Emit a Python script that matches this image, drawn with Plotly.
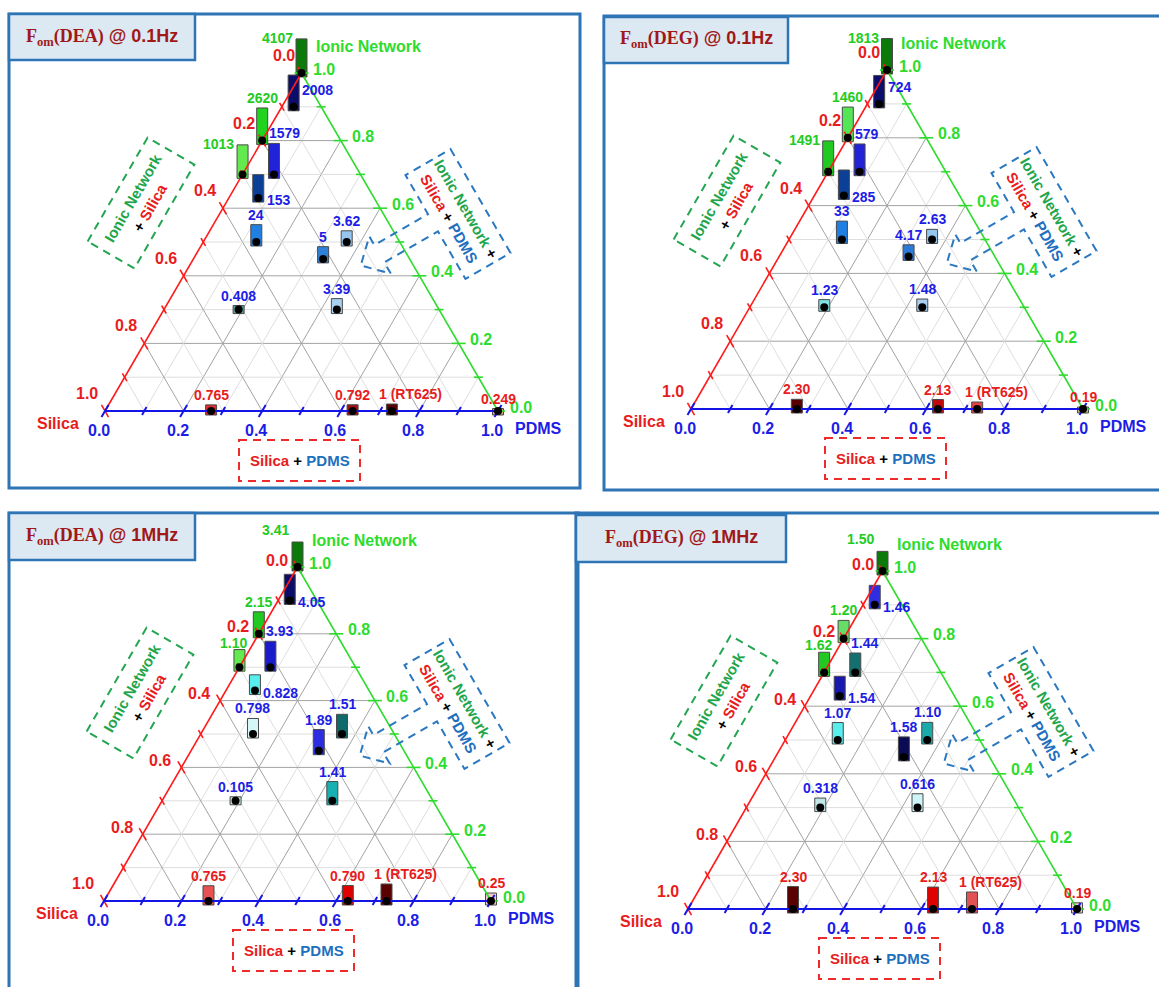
import math
import plotly.graph_objects as go

FIG_W, FIG_H = 1159, 987

# ---------------------------------------------------------------------------
# Sample compositions (fractions of Ionic Network / PDMS / Silica)
# ---------------------------------------------------------------------------
IONIC = [1.00, 0.90, 0.80, 0.70, 0.70, 0.63, 0.50, 0.50, 0.45, 0.30, 0.30, 0.00, 0.00, 0.00, 0.00]
PDMS = [0.00, 0.03, 0.00, 0.00, 0.08, 0.075, 0.135, 0.365, 0.33, 0.19, 0.44, 0.27, 0.63, 0.73, 1.00]
SILICA = [0.00, 0.07, 0.20, 0.30, 0.22, 0.295, 0.365, 0.135, 0.22, 0.51, 0.26, 0.73, 0.37, 0.27, 0.00]

# ---------------------------------------------------------------------------
# Figure of merit for each composition
# ---------------------------------------------------------------------------
FOM_DEA_01HZ = [4107, 2008, 2620, 1013, 1579, 153, 24, 3.62, 5, 0.408, 3.39, 0.765, 0.792, 1, 0.249]
TXT_DEA_01HZ = ["4107", "2008", "2620", "1013", "1579", "153", "24", "3.62", "5", "0.408",
                "3.39", "0.765", "0.792", "1 (RT625)", "0.249"]

FOM_DEG_01HZ = [1813, 724, 1460, 1491, 579, 285, 33, 2.63, 4.17, 1.23, 1.48, 2.30, 2.13, 1, 0.19]
TXT_DEG_01HZ = ["1813", "724", "1460", "1491", "579", "285", "33", "2.63", "4.17", "1.23",
                "1.48", "2.30", "2.13", "1 (RT625)", "0.19"]

FOM_DEA_1MHZ = [3.41, 4.05, 2.15, 1.10, 3.93, 0.828, 0.798, 1.51, 1.89, 0.105, 1.41, 0.765, 0.790, 1, 0.25]
TXT_DEA_1MHZ = ["3.41", "4.05", "2.15", "1.10", "3.93", "0.828", "0.798", "1.51", "1.89", "0.105",
                "1.41", "0.765", "0.790", "1 (RT625)", "0.25"]

FOM_DEG_1MHZ = [1.50, 1.46, 1.20, 1.62, 1.44, 1.54, 1.07, 1.10, 1.58, 0.318, 0.616, 2.30, 2.13, 1, 0.19]
TXT_DEG_1MHZ = ["1.50", "1.46", "1.20", "1.62", "1.44", "1.54", "1.07", "1.10", "1.58", "0.318",
                "0.616", "2.30", "2.13", "1 (RT625)", "0.19"]

TICK_VALUES = [0.0, 0.2, 0.4, 0.6, 0.8, 1.0]
TICK_TEXT = ["0.0", "0.2", "0.4", "0.6", "0.8", "1.0"]
MINOR_TICKS = [0.1, 0.3, 0.5, 0.7, 0.9]

# ---------------------------------------------------------------------------
# Styling
# ---------------------------------------------------------------------------
SANS = "Liberation Sans, Arial, sans-serif"
SERIF = "Liberation Serif, Times New Roman, serif"
RED, GREEN, BLUE = "#ff1a1a", "#2ddc2d", "#1515e8"
RED_TXT, GREEN_TXT, BLUE_TXT = "#e81c1c", "#22cc22", "#1d1de6"
FRAME_BLUE = "#2e75b6"
DASH_GREEN, DASH_BLUE, DASH_RED = "#23a552", "#2a78c0", "#ee2a2a"
LEG_GREEN, LEG_BLUE = "#1fa64c", "#1f6fbf"
TITLE_RED = "#a01818"

COL_DEA_01HZ = ["#0b7a0b", "#0c0c6b", "#1fd31f", "#62ea4e", "#2222d8", "#0b3f98", "#1f7fe3",
                "#95c6ef", "#2e80d8", "#58a3a3", "#a9d0f1", "#e02b2b", "#a30d0d", "#5a0202", "#d8a47c"]
COL_DEG_01HZ = ["#0b7a0b", "#0c0c6b", "#55e655", "#22c922", "#2222d8", "#0b3f98", "#1f7fe3",
                "#95c6ef", "#2b7ad8", "#7fe3e3", "#a9d0f1", "#5a0202", "#c20a0a", "#e24444", "#d8b27c"]
COL_DEA_1MHZ = ["#0b7a0b", "#0c0c6b", "#22c922", "#62ea4e", "#1b1bcc", "#58eeee", "#d6f7f7",
                "#0f6b6b", "#2c2ce0", "#c8e8e8", "#18b0b0", "#e85252", "#e00000", "#5a0202", "#f2c9c9"]
COL_DEG_1MHZ = ["#0b7a0b", "#2e2ee0", "#66dd66", "#22c922", "#137070", "#1818b0", "#58eeee",
                "#1aaaaa", "#0a0a55", "#c0e6e6", "#cdf4f7", "#5a0202", "#e00000", "#e25252", "#f2c9c9"]

# label placement relative to each bar
PLACE_DEA_01HZ = ["l", "rd", "t", "l", "tr", "rb", "t", "t", "t", "t", "t", "t", "t", "rt", "t"]
PLACE_DEG_01HZ = ["l", "rd", "t", "l", "tr", "rb", "t", "t", "t", "t", "t", "t", "t", "rt", "t"]
PLACE_1MHZ = ["lt", "rb", "t", "td", "tr", "rb", "t", "t", "t", "t", "t", "t", "t", "rt", "t"]

# vertical offsets (px, up) of the Silica tick labels 0.0 ... 1.0
RED_DY_TOP = [17.5, 17.5, 17.5, 17.5, 17.5, 18]
RED_DY_BOTTOM = [7, 7, 7, 7, 7, 18]

PANELS = [
    dict(material="DEA", freq="0.1Hz", fom=FOM_DEA_01HZ, text=TXT_DEA_01HZ, colors=COL_DEA_01HZ,
         place=PLACE_DEA_01HZ, origin=(105, 411), size=(393, 338), red_dx=-18, red_dy=RED_DY_TOP,
         frame=(9, 14, 580, 488), tbox=(9, 14, 195, 60), hmap=(11, 7.5, 6), rbox_dx=134),
    dict(material="DEG", freq="0.1Hz", fom=FOM_DEG_01HZ, text=TXT_DEG_01HZ, colors=COL_DEG_01HZ,
         place=PLACE_DEG_01HZ, origin=(691, 409), size=(392, 339), red_dx=-18, red_dy=RED_DY_TOP,
         frame=(604, 16, 1175, 490), tbox=(604, 17, 788, 63), hmap=(11, 7.5, 6), rbox_dx=134),
    dict(material="DEA", freq="1MHz", fom=FOM_DEA_1MHZ, text=TXT_DEA_1MHZ, colors=COL_DEA_1MHZ,
         place=PLACE_1MHZ, origin=(104, 901), size=(387, 334), red_dx=-21, red_dy=RED_DY_BOTTOM,
         frame=(9, 513, 578, 1000), tbox=(9, 513, 195, 560), hmap=(21, 15, 8), rbox_dx=129),
    dict(material="DEG", freq="1MHz", fom=FOM_DEG_1MHZ, text=TXT_DEG_1MHZ, colors=COL_DEG_1MHZ,
         place=PLACE_1MHZ, origin=(688, 909), size=(389, 338), red_dx=-20, red_dy=RED_DY_BOTTOM,
         frame=(576, 513, 1175, 1000), tbox=(576, 515, 786, 562), hmap=(21, 15, 8), rbox_dx=131),
]

BAR_W_PX = 11
BAR_DROP_PX = 4

# callout outline in its own frame (s along text, t across text)
CALLOUT = [(-60, 26), (60, 26), (60, -26), (5, -26), (5, -88), (18, -88), (-4, -110),
           (-25, -88), (-15, -88), (-15, -26), (-60, -26)]


def ternary_xy(i, p, s):
    tot = i + p + s
    i, p = i / tot, p / tot
    return p + i / 2.0, i


def paper(px, py):
    return px / FIG_W, 1 - py / FIG_H


fig = go.Figure()
shapes, annotations = [], []


def ann(xref, yref, x, y, text, size, color="#000", **kw):
    d = dict(xref=xref, yref=yref, x=x, y=y, text=text, showarrow=False,
             xanchor="center", yanchor="middle",
             font=dict(family=SANS, size=size, color=color))
    d.update(kw)
    annotations.append(d)


for k, cfg in enumerate(PANELS, start=1):
    xa = "x" if k == 1 else f"x{k}"
    ya = "y" if k == 1 else f"y{k}"
    bx, by = cfg["origin"]
    W, H = cfg["size"]

    fig.update_layout(**{
        ("xaxis" if k == 1 else f"xaxis{k}"): dict(domain=[0, 1], anchor=ya, range=[-bx / W, (FIG_W - bx) / W],
                                                   visible=False, fixedrange=True),
        ("yaxis" if k == 1 else f"yaxis{k}"): dict(domain=[0, 1], anchor=xa, range=[(by - FIG_H) / H, by / H],
                                                   visible=False, fixedrange=True),
    })

    def pt(px, py):
        return (px - bx) / W, (by - py) / H

    # ---- grid -------------------------------------------------------------
    for n in range(1, 10):
        t = n / 10
        col = "#a3a3a3" if n % 2 == 0 else "#dedede"
        segs = [((t / 2, t), (1 - t / 2, t)),
                ((t, 0), (t + (1 - t) / 2, 1 - t)),
                ((1 - t, 0), ((1 - t) / 2, 1 - t))]
        for (x0, y0), (x1, y1) in segs:
            shapes.append(dict(type="line", xref=xa, yref=ya, x0=x0, y0=y0, x1=x1, y1=y1,
                               line=dict(color=col, width=1), layer="below"))

    # ---- bars -------------------------------------------------------------
    xs, ys = zip(*[ternary_xy(i, p, s) for i, p, s in zip(IONIC, PDMS, SILICA)])
    a_h, b_h, hmin = cfg["hmap"]
    hpx = [max(hmin, a_h + b_h * math.log10(v)) for v in cfg["fom"]]
    fig.add_trace(go.Bar(
        x=list(xs), y=[h / H for h in hpx], base=[y - BAR_DROP_PX / H for y in ys],
        width=[BAR_W_PX / W] * len(xs), xaxis=xa, yaxis=ya,
        marker=dict(color=cfg["colors"], line=dict(color="#4a4a4a", width=1)),
        hoverinfo="skip", showlegend=False))

    # ---- axes with ticks ----------------------------------------------------
    def axis_trace(start, end, tick_pts, dpx, color, width):
        nrm = math.hypot(*dpx)
        ux, uy = dpx[0] / nrm, dpx[1] / nrm
        tx, ty = [start[0], end[0], None], [start[1], end[1], None]
        for (x, y), half in tick_pts:
            dx, dy = ux * half / W, -uy * half / H
            tx += [x - dx, x + dx, None]
            ty += [y - dy, y + dy, None]
        fig.add_trace(go.Scatter(x=tx, y=ty, mode="lines", xaxis=xa, yaxis=ya,
                                 line=dict(color=color, width=width), hoverinfo="skip",
                                 showlegend=False))

    all_ticks = [(t, 7) for t in TICK_VALUES] + [(t, 4.5) for t in MINOR_TICKS]
    # Silica (left edge), Ionic Network (right edge), PDMS (bottom edge)
    axis_trace((0, 0), (0.5, 1), [(((1 - t) / 2, 1 - t), L) for t, L in all_ticks],
               (-W / 2, -H), RED, 1.6)
    axis_trace((1, 0), (0.5, 1), [((1 - t / 2, t), L) for t, L in all_ticks],
               (1, 0), GREEN, 1.6)
    axis_trace((0, 0), (1, 0), [((t, 0), L) for t, L in all_ticks],
               (W / 2, -H), BLUE, 2)

    # ---- composition points -----------------------------------------------
    fig.add_trace(go.Scatter(x=list(xs), y=list(ys), mode="markers", xaxis=xa, yaxis=ya,
                             marker=dict(color="black", size=8), hoverinfo="skip",
                             showlegend=False))

    # ---- tick labels and axis titles --------------------------------------
    for t, lab, rdy in zip(TICK_VALUES, TICK_TEXT, cfg["red_dy"]):
        ann(xa, ya, (1 - t) / 2, 1 - t, f"<b>{lab}</b>", 16, RED_TXT, xshift=cfg["red_dx"], yshift=rdy)
        ann(xa, ya, t, 0, f"<b>{lab}</b>", 16, BLUE_TXT, xshift=-6, yshift=-19)
        ann(xa, ya, 1 - t / 2, t, f"<b>{lab}</b>", 16, GREEN, xshift=22.5, yshift=4)
    ann(xa, ya, 0.5, 1, "<b>Ionic Network</b>", 16, GREEN, xanchor="left", xshift=12, yshift=27)
    ann(xa, ya, 0, 0, "<b>Silica</b>", 16, RED_TXT, xanchor="right", xshift=-24, yshift=-12)
    ann(xa, ya, 1, 0, "<b>PDMS</b>", 16, BLUE_TXT, xanchor="left", xshift=15, yshift=-17)

    # ---- value labels ---------------------------------------------------------
    half_w = BAR_W_PX / 2
    for x, y, h, lab, plc, i, p in zip(xs, ys, hpx, cfg["text"], cfg["place"], IONIC, PDMS):
        col = GREEN_TXT if p == 0 else (RED_TXT if i == 0 else BLUE_TXT)
        top = y + (h - BAR_DROP_PX) / H
        txt = f"<b>{lab}</b>"
        if plc == "t":
            ann(xa, ya, x, top, txt, 14, col, yanchor="bottom")
        elif plc == "td":
            ann(xa, ya, x, top, txt, 14, col, yanchor="bottom", xshift=-6, yshift=-3)
        elif plc == "tl":
            ann(xa, ya, x, top, txt, 14, col, yanchor="bottom", xanchor="right", xshift=half_w + 2)
        elif plc == "tr":
            ann(xa, ya, x, top, txt, 14, col, yanchor="bottom", xanchor="left", xshift=-half_w - 1)
        elif plc == "rt":
            ann(xa, ya, x, top, txt, 14, col, yanchor="bottom", xanchor="left", xshift=-half_w - 9)
        elif plc == "l":
            ann(xa, ya, x, top, txt, 14, col, xanchor="right", xshift=-half_w - 1, yshift=1)
        elif plc == "lt":
            ann(xa, ya, x, top, txt, 14, col, xanchor="right", yanchor="bottom",
                xshift=-half_w - 1, yshift=2)
        elif plc == "rd":
            ann(xa, ya, x, y, txt, 14, col, xanchor="left", xshift=half_w + 1, yshift=17)
        elif plc == "rb":
            ann(xa, ya, x, y, txt, 14, col, xanchor="left", xshift=half_w + 1, yshift=-2)

    # ---- dashed group boxes ------------------------------------------------
    def rot_path(center, u, v, pts):
        cx, cy = center
        out = []
        for s, t in pts:
            px = cx + s * u[0] + t * v[0]
            py = cy + s * u[1] + t * v[1]
            out.append(pt(px, py))
        return "M " + " L ".join(f"{x:.5f},{y:.5f}" for x, y in out) + " Z"

    dash = "8px,6px"
    # Ionic Network + Silica (along the left edge)
    gc = (bx + 36, by - 208)
    gu, gv = (0.5, -0.866), (0.866, 0.5)
    shapes.append(dict(type="path", xref=xa, yref=ya,
                       path=rot_path(gc, gu, gv, [(-60, -27), (60, -27), (60, 27), (-60, 27)]),
                       line=dict(color=DASH_GREEN, width=2, dash=dash)))
    ann(xa, ya, *pt(*gc),
        f"<b><span style='color:{LEG_GREEN}'>Ionic Network</span><br>+ "
        f"<span style='color:{RED_TXT}'>Silica</span></b>", 15, "#000", textangle=-60)

    # Ionic Network + Silica + PDMS (callout pointing into the triangle)
    bc = (bx + 353, by - 197)
    bu, bv = (0.5, 0.866), (0.866, -0.5)
    shapes.append(dict(type="path", xref=xa, yref=ya, path=rot_path(bc, bu, bv, CALLOUT),
                       line=dict(color=DASH_BLUE, width=2, dash=dash)))
    ann(xa, ya, *pt(*bc),
        f"<b><span style='color:{LEG_GREEN}'>Ionic Network</span> +<br>"
        f"<span style='color:{RED_TXT}'>Silica</span> + <span style='color:{LEG_BLUE}'>PDMS</span></b>",
        15, "#000", textangle=60)

    # Silica + PDMS (below the base)
    x0, y0 = pt(bx + cfg["rbox_dx"], by + 29)
    x1, y1 = pt(bx + cfg["rbox_dx"] + 121, by + 70)
    shapes.append(dict(type="rect", xref=xa, yref=ya, x0=x0, y0=y0, x1=x1, y1=y1,
                       line=dict(color=DASH_RED, width=2, dash=dash)))
    ann(xa, ya, (x0 + x1) / 2, (y0 + y1) / 2,
        f"<b><span style='color:{RED_TXT}'>Silica</span> + <span style='color:{LEG_BLUE}'>PDMS</span></b>",
        15, "#000")

    # ---- panel frame and title -------------------------------------------
    fx0, fy0, fx1, fy1 = cfg["frame"]
    p0, p1 = paper(fx0, fy1), paper(fx1, fy0)
    shapes.append(dict(type="rect", xref="paper", yref="paper", x0=p0[0], y0=p0[1], x1=p1[0], y1=p1[1],
                       line=dict(color=FRAME_BLUE, width=3)))
    tx0, ty0, tx1, ty1 = cfg["tbox"]
    q0, q1 = paper(tx0, ty1), paper(tx1, ty0)
    shapes.append(dict(type="rect", xref="paper", yref="paper", x0=q0[0], y0=q0[1], x1=q1[0], y1=q1[1],
                       fillcolor="#dce9f3", line=dict(color=FRAME_BLUE, width=2.5)))
    ann("paper", "paper", (q0[0] + q1[0]) / 2, (q0[1] + q1[1]) / 2,
        f"<b><span style='font-family:{SERIF}'>F<sub>om</sub>({cfg['material']})</span> @ {cfg['freq']}</b>",
        18, TITLE_RED)

fig.update_layout(
    width=FIG_W, height=FIG_H, margin=dict(l=0, r=0, t=0, b=0),
    paper_bgcolor="white", plot_bgcolor="rgba(0,0,0,0)",
    barmode="overlay", showlegend=False,
    shapes=shapes, annotations=annotations,
)

fig.write_html("out.html")
